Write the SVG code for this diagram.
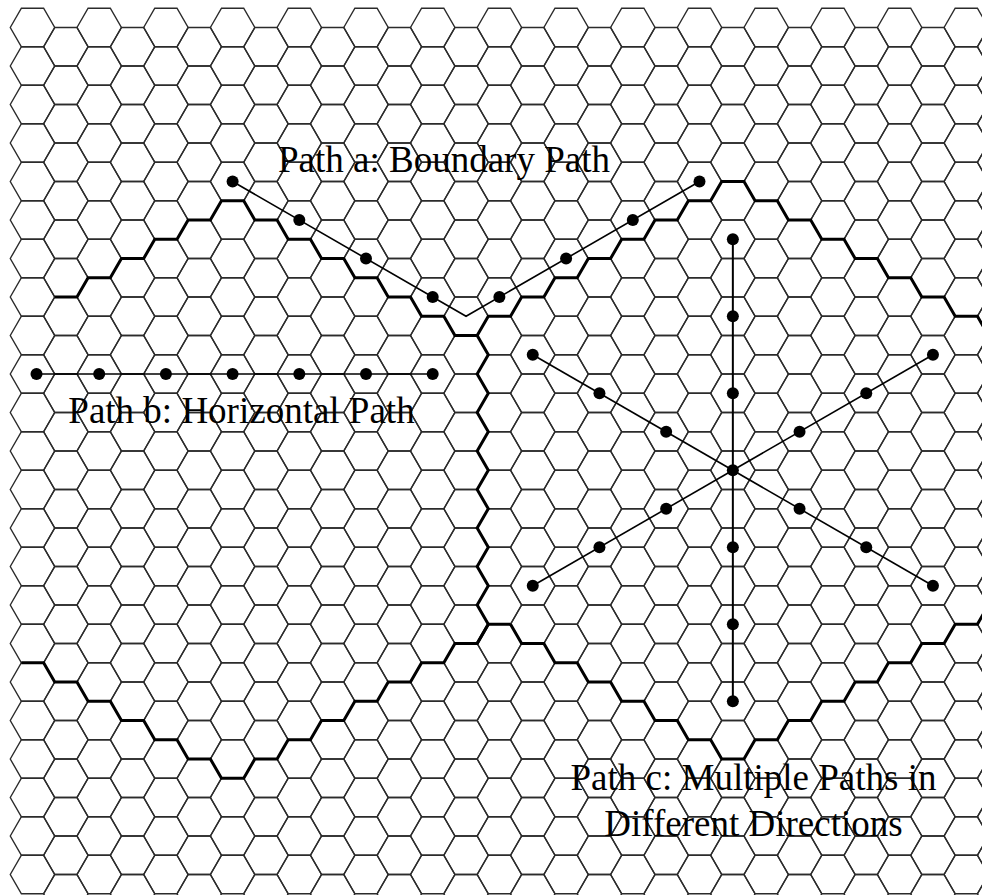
<svg xmlns="http://www.w3.org/2000/svg" width="982" height="895" viewBox="0 0 982 895">
<style>
.grid{fill:none;stroke:#2b2b2b;stroke-width:1.4}
.bound{fill:none;stroke:#000;stroke-width:3;stroke-linejoin:miter}
.pl{fill:none;stroke:#000;stroke-width:1.6}
.dot{fill:#000}
.lbl{font-family:"Liberation Serif","Times New Roman",serif;font-size:37px;fill:#000}
</style>
<defs>
<path id="h" d="M-22.23 0L-11.115-19.25L11.115-19.25L22.23 0L11.115 19.25L-11.115 19.25Z"/>
<g id="row">
<use href="#h" x="32.5" y="0"/><use href="#h" x="99.2" y="0"/><use href="#h" x="165.9" y="0"/><use href="#h" x="232.6" y="0"/><use href="#h" x="299.3" y="0"/><use href="#h" x="366" y="0"/><use href="#h" x="432.7" y="0"/><use href="#h" x="499.4" y="0"/><use href="#h" x="566.1" y="0"/><use href="#h" x="632.8" y="0"/><use href="#h" x="699.5" y="0"/><use href="#h" x="766.2" y="0"/><use href="#h" x="832.9" y="0"/><use href="#h" x="899.6" y="0"/><use href="#h" x="966.3" y="0"/>
<use href="#h" x="65.85" y="19.25"/><use href="#h" x="132.55" y="19.25"/><use href="#h" x="199.25" y="19.25"/><use href="#h" x="265.95" y="19.25"/><use href="#h" x="332.65" y="19.25"/><use href="#h" x="399.35" y="19.25"/><use href="#h" x="466.05" y="19.25"/><use href="#h" x="532.75" y="19.25"/><use href="#h" x="599.45" y="19.25"/><use href="#h" x="666.15" y="19.25"/><use href="#h" x="732.85" y="19.25"/><use href="#h" x="799.55" y="19.25"/><use href="#h" x="866.25" y="19.25"/><use href="#h" x="932.95" y="19.25"/><use href="#h" x="999.65" y="19.25"/>
</g>
</defs>
<rect width="982" height="895" fill="#fff"/>
<g id="grid" class="grid">
<use href="#row" y="27.5"/><use href="#row" y="66"/><use href="#row" y="104.5"/><use href="#row" y="143"/><use href="#row" y="181.5"/><use href="#row" y="220"/><use href="#row" y="258.5"/><use href="#row" y="297"/><use href="#row" y="335.5"/><use href="#row" y="374"/><use href="#row" y="412.5"/><use href="#row" y="451"/><use href="#row" y="489.5"/><use href="#row" y="528"/><use href="#row" y="566.5"/><use href="#row" y="605"/><use href="#row" y="643.5"/><use href="#row" y="682"/><use href="#row" y="720.5"/><use href="#row" y="759"/><use href="#row" y="797.5"/><use href="#row" y="836"/><use href="#row" y="874.5"/>
</g>
<g id="boundaries" class="bound">
<path id="left-top" d="M54.74 297L76.97 297L88.09 277.75L110.32 277.75L121.44 258.5L143.67 258.5L154.79 239.25L177.02 239.25L188.14 220L210.37 220L221.49 200.75L243.72 200.75L254.84 220L277.07 220L288.19 239.25L310.42 239.25L321.54 258.5L343.77 258.5L354.89 277.75L377.12 277.75L388.24 297L410.47 297L421.59 316.25L443.82 316.25L454.94 335.5L477.17 335.5"/>
<path id="middle" d="M477.17 335.5L488.29 354.75L477.17 374L488.29 393.25L477.17 412.5L488.29 431.75L477.17 451L488.29 470.25L477.17 489.5L488.29 508.75L477.17 528L488.29 547.25L477.17 566.5L488.29 585.75L477.17 605L488.29 624.25L477.17 643.5"/>
<path id="right-top" d="M477.17 335.5L488.29 316.25L510.52 316.25L521.64 297L543.87 297L554.99 277.75L577.22 277.75L588.34 258.5L610.57 258.5L621.69 239.25L643.92 239.25L655.04 220L677.27 220L688.39 200.75L710.62 200.75L721.74 181.5L743.97 181.5L755.09 200.75L777.32 200.75L788.44 220L810.67 220L821.79 239.25L844.02 239.25L855.14 258.5L877.37 258.5L888.49 277.75L910.72 277.75L921.84 297L944.07 297L955.19 316.25L977.42 316.25L988.54 335.5"/>
<path id="left-bottom" d="M21.39 662.75L43.62 662.75L54.74 682L76.97 682L88.09 701.25L110.32 701.25L121.44 720.5L143.67 720.5L154.79 739.75L177.02 739.75L188.14 759L210.37 759L221.49 778.25L243.72 778.25L254.84 759L277.07 759L288.19 739.75L310.42 739.75L321.54 720.5L343.77 720.5L354.89 701.25L377.12 701.25L388.24 682L410.47 682L421.59 662.75L443.82 662.75L454.94 643.5L477.17 643.5L488.29 624.25L510.52 624.25"/>
<path id="right-bottom" d="M510.52 624.25L521.64 643.5L543.87 643.5L554.99 662.75L577.22 662.75L588.34 682L610.57 682L621.69 701.25L643.92 701.25L655.04 720.5L677.27 720.5L688.39 739.75L710.62 739.75L721.74 759L743.97 759L755.09 739.75L777.32 739.75L788.44 720.5L810.67 720.5L821.79 701.25L844.02 701.25L855.14 682L877.37 682L888.49 662.75L910.72 662.75L921.84 643.5L944.07 643.5L955.19 624.25L977.42 624.25L988.54 605"/>
</g>
<g id="connectors" class="pl">
<polyline id="path-a-line" points="232.6,181.5 466.05,316.25 699.5,181.5"/>
<line id="path-b-line" x1="36.5" y1="374" x2="432.7" y2="374"/>
<line id="path-c-vertical" x1="732.85" y1="239.25" x2="732.85" y2="701.25" stroke-width="2"/>
<line id="path-c-diag1" x1="532.75" y1="354.75" x2="932.95" y2="585.75"/>
<line id="path-c-diag2" x1="532.75" y1="585.75" x2="932.95" y2="354.75"/>
</g>
<g id="path-a" class="dot">
<circle cx="232.6" cy="181.5" r="6"/><circle cx="299.3" cy="220" r="6"/><circle cx="366" cy="258.5" r="6"/><circle cx="432.7" cy="297" r="6"/>
<circle cx="499.4" cy="297" r="6"/><circle cx="566.1" cy="258.5" r="6"/><circle cx="632.8" cy="220" r="6"/><circle cx="699.5" cy="181.5" r="6"/>
</g>
<g id="path-b" class="dot">
<circle cx="36.5" cy="374" r="6"/><circle cx="99.2" cy="374" r="6"/><circle cx="165.9" cy="374" r="6"/><circle cx="232.6" cy="374" r="6"/><circle cx="299.3" cy="374" r="6"/><circle cx="366" cy="374" r="6"/><circle cx="432.7" cy="374" r="6"/>
</g>
<g id="path-c" class="dot">
<circle cx="732.85" cy="239.25" r="6"/><circle cx="732.85" cy="316.25" r="6"/><circle cx="732.85" cy="393.25" r="6"/><circle cx="732.85" cy="470.25" r="6"/><circle cx="732.85" cy="547.25" r="6"/><circle cx="732.85" cy="624.25" r="6"/><circle cx="732.85" cy="701.25" r="6"/>
<circle cx="532.75" cy="354.75" r="6"/><circle cx="599.45" cy="393.25" r="6"/><circle cx="666.15" cy="431.75" r="6"/>
<circle cx="799.55" cy="508.75" r="6"/><circle cx="866.25" cy="547.25" r="6"/><circle cx="932.95" cy="585.75" r="6"/>
<circle cx="532.75" cy="585.75" r="6"/><circle cx="599.45" cy="547.25" r="6"/><circle cx="666.15" cy="508.75" r="6"/>
<circle cx="799.55" cy="431.75" r="6"/><circle cx="866.25" cy="393.25" r="6"/><circle cx="932.95" cy="354.75" r="6"/>
</g>
<g id="labels" class="lbl">
<text x="444" y="172" text-anchor="middle">Path a: Boundary Path</text>
<text x="241.5" y="422.5" text-anchor="middle">Path b: Horizontal Path</text>
<text x="753.5" y="789.5" text-anchor="middle">Path c: Multiple Paths in</text>
<text x="753.5" y="835.5" text-anchor="middle">Different Directions</text>
</g>
</svg>
